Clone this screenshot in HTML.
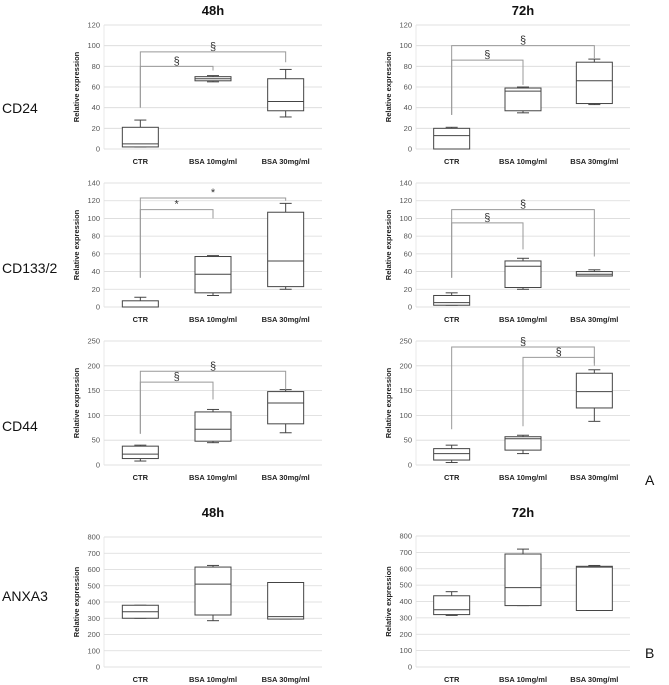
<!DOCTYPE html>
<html><head><meta charset="utf-8"><style>
body{margin:0;background:#fff;}
svg{display:block;font-family:"Liberation Sans",sans-serif;}
</style></head><body>
<svg id="fig" width="669" height="685" viewBox="0 0 669 685" xmlns="http://www.w3.org/2000/svg"></svg>
<script>
const categories = ["CTR", "BSA 10mg/ml", "BSA 30mg/ml"];
// box stats: [min, q1, median, q3, max] per category
const cd24_48 = [[2,2,5,21,28],[65,66,68,70,71],[31,37,46,68,77]];
const cd24_72 = [[0,0,13,20,21],[35,37,56,59,60],[43,44,66,84,87]];
const cd133_48 = [[0,0,0,7,11],[13,16,37,57,58],[20,23,52,107,117]];
const cd133_72 = [[2,2,5,13,16],[20,22,46,52,55],[35,35,37,40,42]];
const cd44_48 = [[8,13,22,38,40],[45,48,72,107,112],[65,83,125,148,152]];
const cd44_72 = [[5,10,23,33,40],[23,30,53,57,60],[88,115,148,185,192]];
const anxa3_48 = [[300,300,340,380,380],[285,320,510,615,625],[295,295,310,520,520]];
const anxa3_72 = [[315,320,350,435,460],[375,375,485,690,720],[345,345,610,615,620]];
// brackets: [fromCat, toCat, level, fromStart, toEnd, symbol]
const br_cd24_48 = [[0,1,80,40,76,"§"],[0,2,94,40,84,"§"]];
const br_cd24_72 = [[0,1,86,33,62,"§"],[0,2,100,33,88,"§"]];
const br_cd133_48 = [[0,1,110,33,100,"*"],[0,2,123,33,120,"*"]];
const br_cd133_72 = [[0,1,95,33,65,"§"],[0,2,110,33,57,"§"]];
const br_cd44_48 = [[0,1,167,63,132,"§"],[0,2,189,63,152,"§"]];
const br_cd44_72 = [[0,2,238,72,205,"§"],[1,2,217,78,200,"§"]];
const ticks_120 = [0,20,40,60,80,100,120];
const ticks_140 = [0,20,40,60,80,100,120,140];
const ticks_250 = [0,50,100,150,200,250];
const ticks_800 = [0,100,200,300,400,500,600,700,800];

const NS="http://www.w3.org/2000/svg";
const svg=document.getElementById('fig');
function mk(tag,attrs,parent){const e=document.createElementNS(NS,tag);for(const k in attrs)e.setAttribute(k,attrs[k]);(parent||svg).appendChild(e);return e;}

function panel(name,x0,x1,yTop,yBot,ticks,data,brackets){
  const g=mk('g',{});
  
  
  const maxV=ticks[ticks.length-1];
  const y=v=>yBot-(v/maxV)*(yBot-yTop);
  const bw=(x1-x0)/categories.length;
  const xc=i=>x0+bw*(i+0.5);
  ticks.forEach(t=>{
    const l=mk('line',{x1:x0,x2:x1,y1:y(t),y2:y(t),stroke:'#d9d9d9','stroke-width':0.8},g);
    
    
    const tx=mk('text',{x:x0-4,y:y(t)+2.5,'font-size':7.5,'text-anchor':'end',fill:'#555'},g);
    tx.textContent=t;
    
    
  });
  mk('line',{x1:x0,x2:x0,y1:yTop,y2:yBot,stroke:'#e3e3e3','stroke-width':0.8},g);
  const yt=mk('text',{x:0,y:0,'font-size':7.5,'font-weight':'bold','text-anchor':'middle',fill:'#222',transform:`translate(${x0-25},${(yTop+yBot)/2}) rotate(-90)`},g);
  yt.textContent='Relative expression';
  
  
  categories.forEach((c,i)=>{
    const t=mk('text',{x:xc(i),y:yBot+15,'font-size':7.5,'font-weight':'bold','text-anchor':'middle',fill:'#222'},g);
    t.textContent=c;
    
    
  });
  const hw=18;
  data.forEach((d,i)=>{
    const cx=xc(i);
    const b=mk('g',{stroke:'#444','stroke-width':1,fill:'#fff'},g);
    
    
    mk('line',{x1:cx,x2:cx,y1:y(d[0]),y2:y(d[1])},b);
    mk('line',{x1:cx,x2:cx,y1:y(d[3]),y2:y(d[4])},b);
    mk('line',{x1:cx-6,x2:cx+6,y1:y(d[0]),y2:y(d[0])},b);
    mk('line',{x1:cx-6,x2:cx+6,y1:y(d[4]),y2:y(d[4])},b);
    mk('rect',{x:cx-hw,y:y(d[3]),width:2*hw,height:Math.max(0.5,y(d[1])-y(d[3]))},b);
    mk('line',{x1:cx-hw,x2:cx+hw,y1:y(d[2]),y2:y(d[2])},b);
  });
  brackets.forEach(br=>{
    const a=xc(br[0]),c=xc(br[1]),L=y(br[2]);
    const p=mk('polyline',{points:`${a},${y(br[3])} ${a},${L} ${c},${L} ${c},${y(br[4])}`,fill:'none',stroke:'#999','stroke-width':1},g);
    
    
    const s=mk('text',{x:(a+c)/2,y:L-2,'font-size':11,'text-anchor':'middle',fill:'#333'},g);
    s.textContent=br[5];
    
    
  });
}
function label(txt,x,y,size,name,anchor,bold){
  const t=mk('text',{x:x,y:y,'font-size':size,'text-anchor':anchor||'start',fill:'#111','font-weight':bold?'bold':'normal'});
  t.textContent=txt;
  
  
}
const L0=104,L1=322,R0=416,R1=630;
panel('cd24-48h-chart',L0,L1,25,149,ticks_120,cd24_48,br_cd24_48);
panel('cd24-72h-chart',R0,R1,25,149,ticks_120,cd24_72,br_cd24_72);
panel('cd133-48h-chart',L0,L1,183,307,ticks_140,cd133_48,br_cd133_48);
panel('cd133-72h-chart',R0,R1,183,307,ticks_140,cd133_72,br_cd133_72);
panel('cd44-48h-chart',L0,L1,341,465,ticks_250,cd44_48,br_cd44_48);
panel('cd44-72h-chart',R0,R1,341,465,ticks_250,cd44_72,br_cd44_72);
panel('anxa3-48h-chart',L0,L1,537,667,ticks_800,anxa3_48,[]);
panel('anxa3-72h-chart',R0,R1,536,667,ticks_800,anxa3_72,[]);
label('48h',213,15,13,'title-48h','middle',true);
label('72h',523,15,13,'title-72h','middle',true);
label('48h',213,517,13,'title-48h-anxa3','middle',true);
label('72h',523,517,13,'title-72h-anxa3','middle',true);
label('CD24',2,113,14,'row-label-cd24');
label('CD133/2',2,273,14,'row-label-cd133');
label('CD44',2,431,14,'row-label-cd44');
label('ANXA3',2,601,14,'row-label-anxa3');
label('A',645,485,14,'panel-label-a');
label('B',645,658,14,'panel-label-b');
</script>
</body></html>
